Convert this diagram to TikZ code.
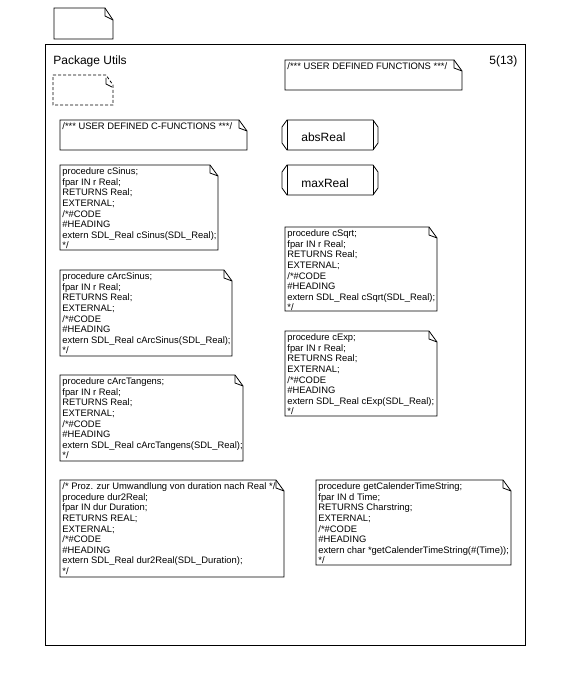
\documentclass[tikz,border=0pt]{standalone}
\usepackage{fontspec}
\setmainfont{Liberation Sans}
\newcommand\mynote[6]{%
  \draw (#2,#3) -- ({#4-8},#3) -- (#4,{#3+11}) -- (#4,#5) -- (#2,#5) -- cycle;
  \draw ({#4-8},#3) -- ({#4-8},{#3+8}) -- (#4,{#3+11});
  \node[notetext] (#1) at ({#2+2},{#3+2.5}) {#6};
}
\newcommand\myproc[6]{%
  \draw ({#2+5},#3) -- ({#4-5},#3) -- (#4,{#3+7}) -- (#4,{#5-7}) -- ({#4-5},#5)
        -- ({#2+5},#5) -- (#2,{#5-7}) -- (#2,{#3+7}) -- cycle;
  \draw ({#2+5},#3) -- ({#2+5},#5);
  \draw ({#4-5},#3) -- ({#4-5},#5);
  \node[bigtext, anchor=base west] (#1) at ({#2+19},{#3+22}) {#6};
}
\begin{document}
\begin{tikzpicture}[x=1pt,y=-1pt,line width=0.8pt,
  notetext/.style={anchor=north west,inner sep=0pt,align=left,
    font=\fontsize{9.4}{10.6}\selectfont},
  bigtext/.style={inner sep=0pt,font=\fontsize{12}{14}\selectfont}]
\useasboundingbox (0,0) rectangle (570,690);
% top page icon
\draw (54,8) -- (105,8) -- (113,20) -- (113,39) -- (54,39) -- cycle;
\draw (105,8) -- (105,16) -- (113,20);
% package frame
\draw (45,44) rectangle (525,645);
\node[bigtext,anchor=base west] (title) at (53,65) {Package Utils};
\node[bigtext,anchor=base west] (page) at (489,65) {5(13)};
% dashed icon
\draw[dashed,dash pattern=on 3pt off 2pt] (53,75) -- (106,75) -- (113,85) -- (113,105) -- (53,105) -- cycle;
\draw (106,78) -- (106,84) -- (112,87);
% notes
\mynote{udf}{285}{60}{462}{90}{/*** USER DEFINED FUNCTIONS ***/}
\mynote{udcf}{60}{120}{247}{150}{/*** USER DEFINED C-FUNCTIONS ***/}
\myproc{absreal}{282}{120}{378}{150}{absReal}
\myproc{maxreal}{282}{165}{378}{195}{maxReal}
\mynote{csinus}{60}{165}{218}{250}{procedure cSinus;\\fpar IN r Real;\\RETURNS Real;\\EXTERNAL;\\/*\#CODE\\\#HEADING\\extern SDL\_Real cSinus(SDL\_Real);\\*/}
\mynote{csqrt}{285}{227}{437}{311}{procedure cSqrt;\\fpar IN r Real;\\RETURNS Real;\\EXTERNAL;\\/*\#CODE\\\#HEADING\\extern SDL\_Real cSqrt(SDL\_Real);\\*/}
\mynote{carcsinus}{60}{270}{232}{356}{procedure cArcSinus;\\fpar IN r Real;\\RETURNS Real;\\EXTERNAL;\\/*\#CODE\\\#HEADING\\extern SDL\_Real cArcSinus(SDL\_Real);\\*/}
\mynote{cexp}{285}{331}{437}{416}{procedure cExp;\\fpar IN r Real;\\RETURNS Real;\\EXTERNAL;\\/*\#CODE\\\#HEADING\\extern SDL\_Real cExp(SDL\_Real);\\*/}
\mynote{carctangens}{60}{375}{243}{461}{procedure cArcTangens;\\fpar IN r Real;\\RETURNS Real;\\EXTERNAL;\\/*\#CODE\\\#HEADING\\extern SDL\_Real cArcTangens(SDL\_Real);\\*/}
\mynote{dur}{60}{480}{284}{577}{/* Proz. zur Umwandlung von duration nach Real */\\procedure dur2Real;\\fpar IN dur Duration;\\RETURNS REAL;\\EXTERNAL;\\/*\#CODE\\\#HEADING\\extern SDL\_Real dur2Real(SDL\_Duration);\\*/}
\mynote{gcts}{316}{480}{511}{565}{procedure getCalenderTimeString;\\fpar IN d Time;\\RETURNS Charstring;\\EXTERNAL;\\/*\#CODE\\\#HEADING\\extern char *getCalenderTimeString(\#(Time));\\*/}
\end{tikzpicture}
\end{document}
